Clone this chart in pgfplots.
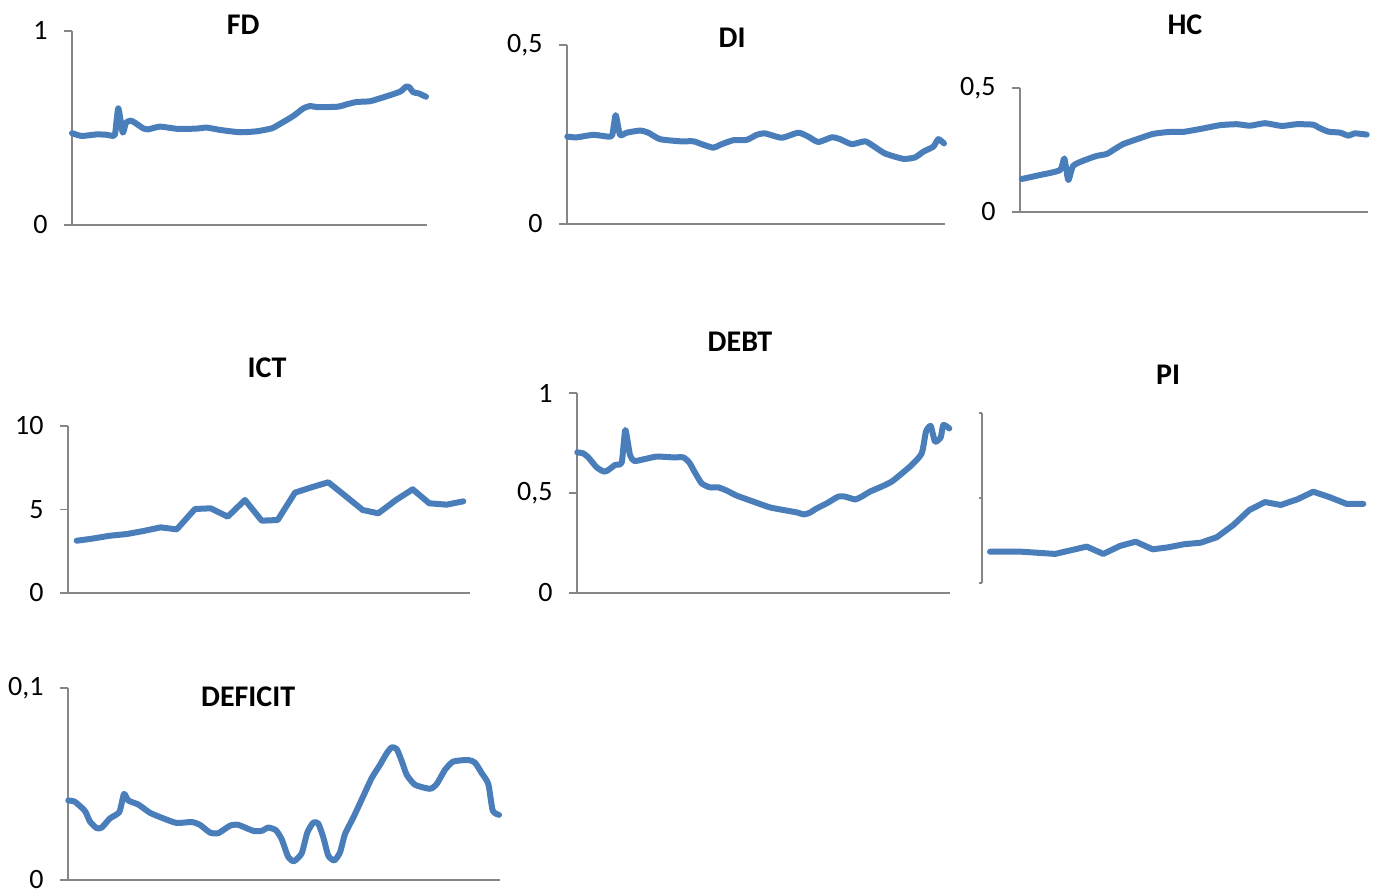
\documentclass[border=0pt]{standalone}
\usepackage{pgfplots}
\pgfplotsset{compat=1.18}
\usepackage{fontspec}
\setmainfont{Carlito}
\definecolor{serie}{HTML}{4A7EBB}
\definecolor{axe}{HTML}{868686}
\pgfplotsset{
  panel/.style={
    scale only axis,
    anchor=south west,
    axis x line*=bottom, axis y line*=left,
    axis line style={draw=axe, line width=1.3pt, -},
    xtick=\empty,
    tick align=outside,
    major tick length=8pt,
    tick style={draw=axe, line width=1.3pt},
    yticklabel style={font=\fontsize{28}{32}\selectfont, text=black, xshift=-13pt},
    title style={font=\fontsize{30}{34}\selectfont\bfseries, anchor=center, yshift=-6pt},
    ymin=0, xmin=0, enlargelimits=false, clip=false,
  },
  serieline/.style={color=serie, line width=6pt, line cap=round, line join=round, mark=none},
}
\begin{document}
\begin{tikzpicture}
\path (0,0) rectangle (1381pt,896pt);

% FD
\begin{axis}[panel, at={(72pt,671pt)}, width=355pt, height=194pt, xmax=355,
  ymax=1, ytick={0,1}, yticklabels={0,1},
  title={FD}, title style={at={(0.482,1.031)}}]
\addplot[serieline, smooth, tension=0.35] coordinates {
(0,0.473) (9.7,0.459) (24.7,0.467) (34.7,0.465) (39.7,0.460) (43,0.467)
(46.3,0.601) (50.7,0.476) (54,0.527) (58.7,0.538) (63,0.527) (71.3,0.498)
(76.3,0.493) (88,0.507) (106.3,0.495) (124.7,0.497) (134.7,0.502) (148,0.490)
(168,0.478) (184.7,0.483) (199.7,0.498) (208,0.521) (221.3,0.562) (231.3,0.601)
(238,0.613) (246.3,0.607) (266.3,0.610) (274.7,0.622) (284.7,0.634) (298,0.638)
(311.3,0.658) (328,0.687) (334,0.713) (337.3,0.710) (341.3,0.684) (346.3,0.679)
(354,0.661)};
\end{axis}

% DI
\begin{axis}[panel, at={(567pt,672pt)}, width=378pt, height=179pt, xmax=378,
  ymax=0.5, ytick={0,0.5}, yticklabels={0,{0,5}},
  title={DI}, title style={at={(0.437,1.039)}}]
\addplot[serieline, smooth, tension=0.35] coordinates {
(0.3,0.244) (9.7,0.242) (26.3,0.249) (41.3,0.244) (45.3,0.249) (48.7,0.304)
(53,0.249) (59.7,0.255) (73,0.261) (81.3,0.255) (93,0.237) (113,0.231)
(126.3,0.231) (134.7,0.223) (146.3,0.213) (153,0.221) (166.3,0.234) (179.7,0.235)
(189.7,0.249) (198,0.253) (214.7,0.241) (231.3,0.255) (241.3,0.244) (251.3,0.229)
(264.7,0.242) (273,0.237) (284.7,0.223) (298,0.231) (306.3,0.218) (318,0.197)
(336.3,0.182) (348,0.186) (356.3,0.202) (366.3,0.216) (371.3,0.237) (377,0.225)};
\end{axis}

% HC
\begin{axis}[panel, at={(1020pt,684pt)}, width=348pt, height=124pt, xmax=348,
  ymax=0.5, ytick={0,0.5}, yticklabels={0,{0,5}},
  title={HC}, title style={at={(0.474,1.508)}}]
\addplot[serieline, smooth, tension=0.35] coordinates {
(1.7,0.133) (20,0.149) (40,0.169) (44.3,0.216) (48.3,0.129) (53.3,0.187)
(66.7,0.212) (76.7,0.226) (86.7,0.234) (93.3,0.250) (103.3,0.274) (116.7,0.293)
(133.3,0.315) (150,0.323) (163.3,0.323) (183.3,0.337) (200,0.350) (216.7,0.354)
(230,0.348) (245,0.358) (261.7,0.347) (276.7,0.354) (293.3,0.352) (298.3,0.341)
(308.3,0.324) (320,0.320) (328.3,0.308) (335,0.317) (346.7,0.312)};
\end{axis}

% ICT
\begin{axis}[panel, at={(68pt,303pt)}, width=402pt, height=167pt, xmax=402,
  ymax=10, ytick={0,5,10}, yticklabels={0,5,10},
  title={ICT}, title style={at={(0.495,1.347)}}]
\addplot[serieline] coordinates {
(8.7,3.13) (23.7,3.25) (42,3.43) (58.7,3.53) (75.3,3.71) (92.7,3.93)
(108.7,3.81) (127,5.03) (142.7,5.07) (159.7,4.57) (177,5.57) (193.7,4.33)
(209.7,4.37) (227,6.01) (243.7,6.33) (260.3,6.63) (277,5.83) (294.7,4.97)
(310.3,4.77) (328,5.57) (344.7,6.21) (361.3,5.37) (378.7,5.29) (395.3,5.49)};
\end{axis}

% DEBT
\begin{axis}[panel, at={(577pt,303pt)}, width=373pt, height=200pt, xmax=373,
  ymax=1, ytick={0,0.5,1}, yticklabels={0,{0,5},1},
  title={DEBT}, title style={at={(0.437,1.255)}}]
\addplot[serieline, smooth, tension=0.35] coordinates {
(0.3,0.703) (6.3,0.698) (11.3,0.678) (19.7,0.628) (27,0.607) (31.3,0.615)
(38,0.640) (44.7,0.653) (48.3,0.815) (53,0.690) (57.3,0.660) (66.3,0.668)
(79.7,0.682) (96.3,0.678) (106.3,0.678) (112.3,0.652) (118,0.602) (124.7,0.548)
(133,0.528) (141.3,0.528) (149.7,0.512) (159.7,0.487) (176.3,0.457) (193,0.428)
(209.7,0.412) (219.7,0.403) (227,0.393) (233,0.402) (239.7,0.423) (249.7,0.448)
(261.3,0.482) (268,0.482) (278,0.468) (284.7,0.482) (293,0.507) (304.7,0.532)
(314.7,0.557) (323,0.590) (334.7,0.640) (344.7,0.698) (349,0.807) (353.7,0.835)
(358,0.757) (363.7,0.778) (366.3,0.840) (372.3,0.823)};
\end{axis}

% PI
\begin{axis}[panel, at={(982pt,313pt)}, width=390pt, height=170pt, xmax=390,
  axis x line=none, major tick length=3pt,
  ymax=1, ytick={0,0.5,1}, yticklabels={},
  title={PI}, title style={at={(0.477,1.224)}}]
\addplot[serieline] coordinates {
(8,0.184) (39.7,0.184) (73,0.171) (104.7,0.214) (121.3,0.171) (138,0.218)
(153.7,0.243) (170.7,0.198) (186.3,0.210) (202,0.228) (218.7,0.237) (234.7,0.269)
(251.3,0.341) (267.3,0.429) (283,0.476) (298.7,0.459) (315.3,0.492) (331.3,0.537)
(348,0.504) (364.7,0.465) (381.3,0.465)};
\end{axis}

% DEFICIT
\begin{axis}[panel, at={(68pt,16pt)}, width=432pt, height=192pt, xmax=432,
  ymax=0.1, ytick={0,0.1}, yticklabels={0,{0,1}},
  title={DEFICIT}, title style={at={(0.417,0.955)}}]
\addplot[serieline, smooth, tension=0.35] coordinates {
(0.3,0.0414) (7,0.0407) (17,0.0359) (22,0.0304) (28.7,0.0270) (33.7,0.0273)
(42,0.0321) (51.3,0.0354) (56,0.0448) (60.3,0.0414) (70.3,0.0393) (82,0.0350)
(95.3,0.0321) (108.7,0.0297) (123.7,0.0302) (132,0.0287) (142,0.0247) (150.3,0.0244)
(162,0.0283) (170.3,0.0287) (185.3,0.0256) (193.7,0.0256) (200.3,0.0273) (208,0.0259)
(213.7,0.0212) (220.3,0.0119) (226,0.0098) (233.7,0.0139) (239.3,0.0247) (245.3,0.0299)
(250.3,0.0294) (255.3,0.0222) (260.3,0.0127) (266.3,0.0102) (272,0.0144) (277,0.0239)
(285.3,0.0325) (295.3,0.0437) (303.7,0.0531) (312,0.0600) (318.7,0.0660) (323.7,0.0691)
(328.7,0.0682) (333.7,0.0620) (338.7,0.0548) (347,0.0496) (362,0.0475) (368.7,0.0500)
(377,0.0574) (385.3,0.0617) (400.3,0.0625) (407,0.0611) (413.7,0.0557) (420.3,0.0500)
(424.7,0.0362) (431,0.0339)};
\end{axis}
\end{tikzpicture}
\end{document}
